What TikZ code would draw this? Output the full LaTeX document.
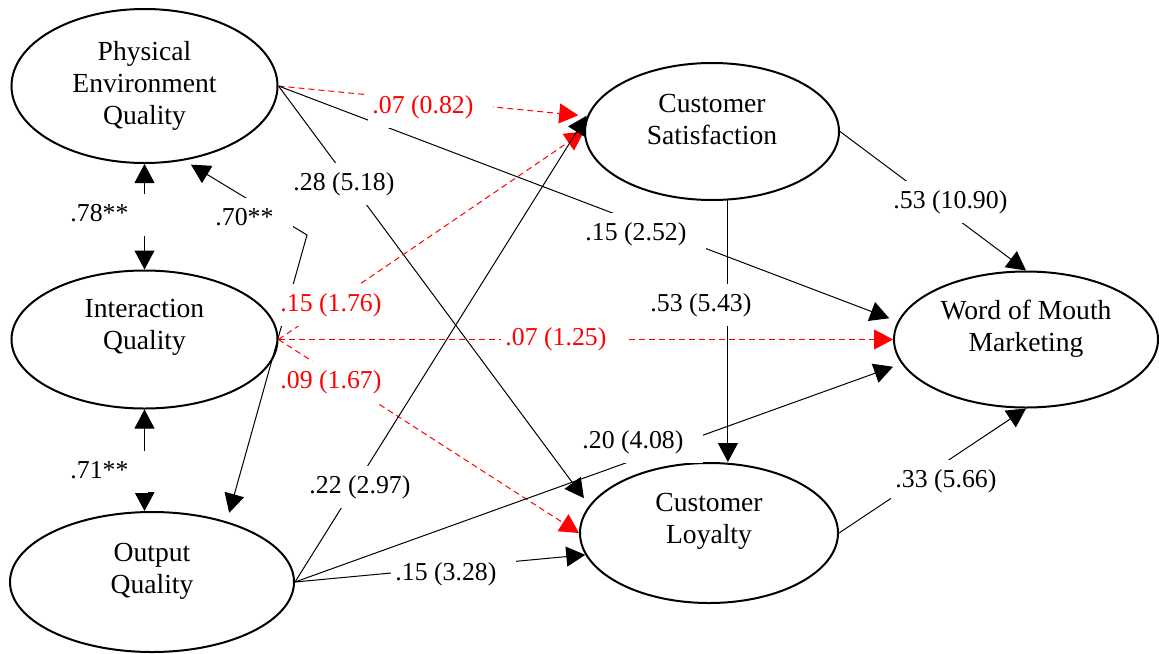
\documentclass[tikz,border=0pt]{standalone}
\usepackage{fontspec}
\setmainfont{Liberation Serif}
\usetikzlibrary{arrows.meta, shapes.geometric}

\tikzset{
    latent/.style={ellipse, draw, line width=1pt, inner sep=0pt},
    vartext/.style={align=center, inner sep=0pt, font=\fontsize{13.8}{16}\selectfont},
    effect/.style={line width=0.5pt, -{Triangle[length=9.5pt, width=10pt]}},
    weak/.style={effect, red, dash pattern=on 3pt off 2pt},
    corr/.style={line width=0.5pt, {Triangle[length=9.5pt, width=10pt]}-{Triangle[length=9.5pt, width=10pt]}},
    short/.style={shorten >=4.5pt},
    coef/.style={fill=white, anchor=west, inner xsep=2pt, inner ysep=4pt,
        text height=9.7pt, text depth=3.2pt, font=\fontsize{12.9}{15}\selectfont,
        execute at end node={\hspace{8pt}}},
    weakcoef/.style={coef, text=red}
}

\begin{document}
\begin{tikzpicture}[x=0.5pt, y=-0.5pt]
    \useasboundingbox (0,0) rectangle (1159,653);

    % Latent variables
    \node[latent, minimum width=133pt, minimum height=77pt] (peq) at (144.5,86) {};
    \node[latent, minimum width=133pt, minimum height=69pt] (iq) at (144.5,339.5) {};
    \node[latent, minimum width=142pt, minimum height=70pt] (oq) at (152,582) {};
    \node[latent, minimum width=127pt, minimum height=68.5pt] (cs) at (712,131.5) {};
    \node[latent, minimum width=129pt, minimum height=70pt] (cl) at (709,533) {};
    \node[latent, minimum width=132pt, minimum height=68pt] (wom) at (1026,339.5) {};

    % Names
    \node[vartext] (peqtext) at (peq.center) {Physical\\Environment\\Quality};
    \node[vartext] (iqtext) at ([yshift=6pt]iq.center) {Interaction\\Quality};
    \node[vartext] (oqtext) at ([yshift=5.5pt]oq.center) {Output\\Quality};
    \node[vartext] (cstext) at ([yshift=6pt]cs.center) {Customer\\Satisfaction};
    \node[vartext] (cltext) at ([yshift=6pt]cl.center) {Customer\\Loyalty};
    \node[vartext] (womtext) at ([yshift=5.5pt]wom.center) {Word of Mouth\\Marketing};

    % Correlations
    \draw[corr] (peq.south) -- (iq.north);
    \draw[corr] (iq.south) -- (iq.south |- oq.north);
    \coordinate (kink) at (307,235);
    \draw[corr, shorten <=4pt, shorten >=4.5pt] (peq.-62) -- (kink) -- (oq.39);

    % Paths
    \draw[weak, short] (peq.east) -- (cs.173);
    \draw[effect, short] (peq.east) -- (wom.172);
    \draw[effect, short] (peq.east) -- (cl.167);
    \draw[weak] (iq.east) -- (cs.west);
    \draw[weak] (iq.east) -- (wom.west);
    \draw[weak] (iq.east) -- (cl.west);
    \draw[effect, short] (oq.east) -- (cs.169);
    \draw[effect, short] (oq.east) -- (wom.191);
    \draw[effect] (oq.east) -- (cl.190);
    \draw[effect] (cs.east) -- (wom.north);
    \draw[effect] (cs.-77) -- (cs.-77 |- cl.north);
    \draw[effect] (cl.east) -- (wom.south);

    % Coefficients
    \node[coef] (rpeqiq) at (66,215) {.78**};
    \node[coef] (riqoq) at (66,472) {.71**};
    \node[coef] (rpeqoq) at (211,219) {.70**};
    \node[weakcoef] (peqcs) at (368,107) {.07 (0.82)};
    \node[coef] (peqcl) at (289,184) {.28 (5.18)};
    \node[coef] (peqwom) at (581,234) {.15 (2.52)};
    \node[weakcoef] (iqcs) at (276,305) {.15 (1.76)};
    \node[weakcoef] (iqwom) at (501,339) {.07 (1.25)};
    \node[weakcoef] (iqcl) at (276,382) {.09 (1.67)};
    \node[coef] (oqcs) at (305,487) {.22 (2.97)};
    \node[coef] (oqwom) at (578,442) {.20 (4.08)};
    \node[coef] (oqcl) at (391,574) {.15 (3.28)};
    \node[coef] (cscl) at (646,305) {.53 (5.43)};
    \node[coef] (cswom) at (889,202) {.53 (10.90)};
    \node[coef] (clwom) at (891,481) {.33 (5.66)};
\end{tikzpicture}
\end{document}
